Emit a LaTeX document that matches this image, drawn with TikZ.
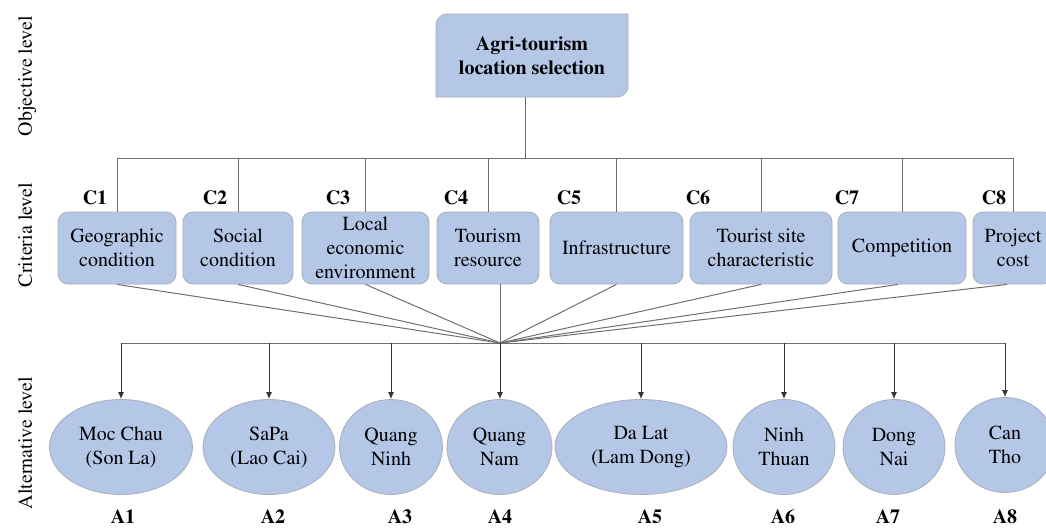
\documentclass[tikz,border=0pt]{standalone}
\usepackage[T1]{fontenc}
\usepackage{mathptmx}
\usetikzlibrary{arrows.meta,backgrounds,shapes.geometric}
\definecolor{boxblue}{RGB}{180,199,231}
\definecolor{boxedge}{RGB}{170,174,184}
\definecolor{wiregray}{RGB}{110,110,110}
\tikzset{
	crit/.style={draw=boxedge, fill=boxblue, rounded corners=5pt, minimum height=36pt, align=center, inner sep=1pt},
	alt/.style={ellipse, draw=boxedge, fill=boxblue, minimum height=47.5pt, align=center, inner sep=0pt},
	tag/.style={font=\bfseries, inner sep=0pt},
	level/.style={rotate=90, anchor=base, inner sep=0pt},
	wire/.style={draw=wiregray, line width=0.5pt},
	drop/.style={draw=black!80, line width=0.5pt, -{Latex[length=3.5pt,width=3pt]}},
}

\begin{document}
\begin{tikzpicture}[x=0.5pt, y=-0.5pt]
			%%%%% START %%%%%
			\useasboundingbox (0, 0) rectangle (1046, 527);
			
			\node[level] (lobj) at (32, 76) {Objective level};
			\node[level] (lcrit) at (32, 235) {Criteria level};
			\node[level] (lalt) at (32, 443) {Alternative level};
			
			% goal box: top left and bottom right corners rounded
			\filldraw[draw=boxedge, fill=boxblue] (436, 97) -- (436, 25) .. controls (436, 19) and (441, 14) .. (447, 14) -- (628, 14) -- (628, 86) .. controls (628, 92) and (623, 97) .. (617, 97) -- cycle;
			\node[minimum width=96pt, minimum height=41.5pt, align=center, font=\bfseries] (goal) at (532, 55.5) {Agri-tourism\\location selection};
			
			\node[crit, minimum width=59pt] (c1) at (117, 248) {Geographic\\condition};
			\node[crit, minimum width=55pt] (c2) at (238, 248) {Social\\condition};
			\node[crit, minimum width=63.5pt] (c3) at (365.5, 248) {Local\\economic\\environment};
			\node[crit, minimum width=51pt] (c4) at (488, 248) {Tourism\\resource};
			\node[crit, minimum width=66.5pt] (c5) at (616.5, 248) {Infrastructure};
			\node[crit, minimum width=71pt] (c6) at (761, 248) {Tourist site\\characteristic};
			\node[crit, minimum width=64pt] (c7) at (902, 248) {Competition};
			\node[crit, minimum width=40pt] (c8) at (1013, 248) {Project\\cost};
			
			\node[tag] (tc1) at (95, 198) {C1};
			\node[tag] (tc2) at (215, 198) {C2};
			\node[tag] (tc3) at (338, 198) {C3};
			\node[tag] (tc4) at (456, 198) {C4};
			\node[tag] (tc5) at (569, 198) {C5};
			\node[tag] (tc6) at (698, 198) {C6};
			\node[tag] (tc7) at (847, 198) {C7};
			\node[tag] (tc8) at (994, 198) {C8};
			
			\coordinate (bus) at (525, 158);
			\draw[wire] (goal.south -| bus) -- (bus);
			\draw[wire] (c1.north |- bus) -- (c8.north |- bus);
			\draw[wire] (c1.north |- bus) -- (c1.north);
			\draw[wire] (c2.north |- bus) -- (c2.north);
			\draw[wire] (c3.north |- bus) -- (c3.north);
			\draw[wire] (c4.north |- bus) -- (c4.north);
			\draw[wire] (c5.north |- bus) -- (c5.north);
			\draw[wire] (c6.north |- bus) -- (c6.north);
			\draw[wire] (c7.north |- bus) -- (c7.north);
			\draw[wire] (c8.north |- bus) -- (c8.north);
			
			\node[alt, minimum width=71.5pt] (a1) at (121, 447) {Moc Chau\\(Son La)};
			\node[alt, minimum width=66pt] (a2) at (269, 447) {SaPa\\(Lao Cai)};
			\node[alt, minimum width=51.5pt] (a3) at (391, 447) {Quang\\Ninh};
			\node[alt, minimum width=52.5pt] (a4) at (499.5, 447) {Quang\\Nam};
			\node[alt, minimum width=86pt] (a5) at (641, 447) {Da Lat\\(Lam Dong)};
			\node[alt, minimum width=51pt] (a6) at (784, 447) {Ninh\\Thuan};
			\node[alt, minimum width=51pt] (a7) at (894, 447) {Dong\\Nai};
			\node[alt, minimum width=50pt] (a8) at (1005, 445) {Can\\Tho};
			
			\node[tag] (ta1) at (123, 517) {A1};
			\node[tag] (ta2) at (273, 517) {A2};
			\node[tag] (ta3) at (400, 517) {A3};
			\node[tag] (ta4) at (500, 517) {A4};
			\node[tag] (ta5) at (650, 517) {A5};
			\node[tag] (ta6) at (783, 517) {A6};
			\node[tag] (ta7) at (888, 517) {A7};
			\node[tag] (ta8) at (1005, 517) {A8};
			
			\coordinate (hub) at (500, 343);
			\draw[wire] (c1.south) -- (hub);
			\draw[wire] (c2.south) -- (hub);
			\draw[wire] (c3.south) -- (hub);
			\draw[wire] (c4.south -| hub) -- (hub);
			\draw[wire] (c5.south) -- (hub);
			\draw[wire] (c6.south) -- (hub);
			\draw[wire] ([xshift=-2pt]c7.south) -- (hub);
			\draw[wire] ([xshift=-3pt]c8.south) -- (hub);
			
			\draw[wire] (a1.north |- hub) -- (a8.north |- hub);
			\draw[drop] (a1.north |- hub) -- (a1.north);
			\draw[drop] (a2.north |- hub) -- (a2.north);
			\draw[drop] (a3.north |- hub) -- (a3.north);
			\draw[drop] (hub) -- (a4.north -| hub);
			\draw[drop] (a5.north |- hub) -- (a5.north);
			\draw[drop] (a6.north |- hub) -- (a6.north);
			\draw[drop] (a7.north |- hub) -- (a7.north);
			\draw[drop] (a8.north |- hub) -- (a8.north);
			%%%%% END %%%%%
\end{tikzpicture}
\end{document}
